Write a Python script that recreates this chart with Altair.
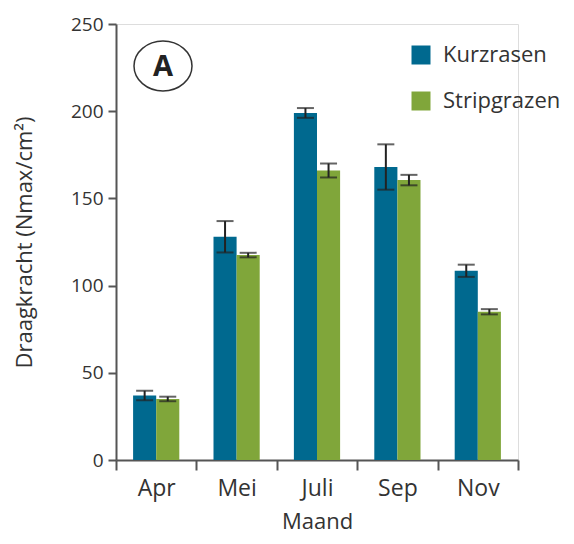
import altair as alt
import pandas as pd

months = ["Apr", "Mei", "Juli", "Sep", "Nov"]
series = ["Kurzrasen", "Stripgrazen"]
kurzrasen = [37, 128, 199, 168, 108.5]
kurzrasen_err = [2.7, 9, 2.8, 13, 3.5]
stripgrazen = [35, 117.5, 166, 160.5, 85]
stripgrazen_err = [1.3, 1.3, 4, 3, 1.5]
y_ticks = [0, 50, 100, 150, 200, 250]
colors = ["#00698F", "#80A63A"]

rows = []
for i, m in enumerate(months):
    rows.append({"Maand": m, "Reeks": series[0], "v": kurzrasen[i], "e": kurzrasen_err[i]})
    rows.append({"Maand": m, "Reeks": series[1], "v": stripgrazen[i], "e": stripgrazen_err[i]})
df = pd.DataFrame(rows)

FONT = "Open Sans"
TXT = "#333333"

x_enc = alt.X("Maand:N", sort=months, title="Maand",
              scale=alt.Scale(paddingInner=0, paddingOuter=0),
              axis=alt.Axis(tickBand="extent", labelAngle=0, labelFontSize=23,
                            labelPadding=7, tickSize=10, titleFontSize=22,
                            titlePadding=11, domainColor="#555555", tickColor="#555555",
                            tickWidth=2, domainWidth=2, labelColor=TXT, titleColor=TXT,
                            labelFont=FONT, titleFont=FONT, titleFontWeight="normal"))
xoff = alt.XOffset("Reeks:N", sort=series, scale=alt.Scale(paddingInner=0, paddingOuter=0.74))

base = alt.Chart(df)

bars = base.mark_bar().encode(
    x=x_enc,
    xOffset=xoff,
    y=alt.Y("v:Q", title="Draagkracht (Nmax/cm²)",
            scale=alt.Scale(domain=[0, 250], nice=False),
            axis=alt.Axis(values=y_ticks, grid=False, labelFontSize=19, labelPadding=5,
                          tickSize=8, titleFontSize=22, titlePadding=34,
                          domainColor="#555555", tickColor="#555555", tickWidth=2,
                          domainWidth=2, labelColor=TXT, titleColor=TXT,
                          labelFont=FONT, titleFont=FONT, titleFontWeight="normal")),
    color=alt.Color("Reeks:N", sort=series, scale=alt.Scale(domain=series, range=colors),
                    legend=alt.Legend(title=None, orient="none", legendX=294, legendY=20,
                                      symbolType="square", symbolSize=361, symbolStrokeWidth=0,
                                      labelFontSize=22, labelFont=FONT, labelColor=TXT,
                                      rowPadding=24, labelOffset=11, padding=0)),
)

err = base.transform_calculate(lo="datum.v - datum.e", hi="datum.v + datum.e")

rules = err.mark_rule(color="#222222", strokeWidth=2).encode(
    x=alt.X("Maand:N", sort=months), xOffset=xoff,
    y=alt.Y("lo:Q"), y2="hi:Q")
caps_lo = err.mark_tick(color="#222222", thickness=2, size=17, orient="horizontal").encode(
    x=alt.X("Maand:N", sort=months), xOffset=xoff, y="lo:Q")
caps_hi = err.mark_tick(color="#222222", thickness=2, size=17, orient="horizontal").encode(
    x=alt.X("Maand:N", sort=months), xOffset=xoff, y="hi:Q")

ellipse = alt.Chart(pd.DataFrame({"t": ["A"]})).mark_point(
    shape="M -1 0 A 1 0.862 0 1 0 1 0 A 1 0.862 0 1 0 -1 0 Z",
    size=3364, filled=False, stroke="#333333", strokeWidth=1.5, opacity=1
).encode(x=alt.value(47), y=alt.value(42))
letter = alt.Chart(pd.DataFrame({"t": ["A"]})).mark_text(
    font=FONT, fontSize=29, fontWeight="bold", color="#222222", baseline="middle", align="center"
).encode(x=alt.value(47), y=alt.value(43), text="t:N")

chart = alt.layer(bars, rules, caps_lo, caps_hi, ellipse, letter).properties(
    width=402, height=436,
    autosize=alt.AutoSizeParams(type="none"),
    padding={"left": 108, "top": 16, "right": 48, "bottom": 76},
).configure_view(stroke=None).configure(background="white")

chart.save("out.html", embed_options={"renderer": "svg", "actions": False})
